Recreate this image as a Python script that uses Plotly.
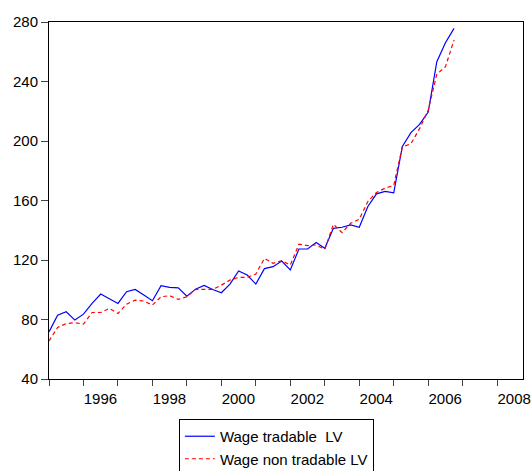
import plotly.graph_objects as go

start_year = 1995
wage_tradable = [71.7, 82.9, 85.2, 79.6, 83.6, 90.8, 97.1, 94.2, 90.8, 98.7, 100.2, 96.4,
                 92.6, 102.7, 101.6, 101.3, 95.7, 100.4, 102.9, 100.2, 98.0, 103.8, 112.6, 109.9,
                 103.8, 114.2, 115.5, 119.3, 113.3, 127.4, 127.4, 131.7, 127.9, 141.3, 142.0, 143.6,
                 142.0, 156.0, 164.5, 166.1, 165.2, 196.4, 205.6, 211.2, 219.5, 253.3, 266.1, 275.7]
wage_non_tradable = [65.6, 74.6, 77.3, 77.8, 76.9, 84.7, 84.7, 87.4, 84.0, 90.3, 93.0, 92.4,
                     89.7, 95.3, 96.0, 93.5, 95.3, 100.2, 100.2, 100.2, 103.1, 106.5, 108.3, 108.3,
                     110.6, 121.1, 117.8, 119.6, 116.6, 130.6, 129.7, 130.1, 127.2, 144.0, 138.4, 144.7,
                     147.4, 159.3, 165.4, 168.3, 170.1, 196.0, 198.2, 208.3, 220.7, 244.9, 249.9, 267.9]
quarters = [start_year + i / 4 for i in range(len(wage_tradable))]
tick_years = list(range(1995, 2009))
tick_labels = [str(y) if y % 2 == 0 else "" for y in tick_years]
y_ticks = [40, 80, 120, 160, 200, 240, 280]

fig = go.Figure()
fig.add_trace(go.Scatter(x=quarters, y=wage_tradable, mode="lines", name="Wage tradable  LV",
                         line=dict(color="#0000FF", width=1.2)))
fig.add_trace(go.Scatter(x=quarters, y=wage_non_tradable, mode="lines", name="Wage non tradable LV",
                         line=dict(color="#FF0000", width=1.2, dash="4px,3px")))

fig.update_layout(
    width=531, height=471,
    margin=dict(l=49, r=8, t=22, b=92, autoexpand=False),
    paper_bgcolor="white", plot_bgcolor="white",
    font=dict(family="Liberation Sans, Arial, sans-serif", size=15, color="black"),
    showlegend=True,
    legend=dict(x=0.274, y=-0.112, xanchor="left", yanchor="top",
                bordercolor="black", borderwidth=1, bgcolor="white",
                font=dict(size=15), tracegroupgap=0, itemwidth=30),
    xaxis=dict(range=[1995, 2008.75], tickvals=tick_years, ticktext=tick_labels,
               ticks="outside", ticklen=6, tickcolor="#444", showgrid=False, zeroline=False,
               showline=True, linecolor="black", linewidth=1, mirror=True,
               ticklabelshift=17),
    yaxis=dict(range=[40, 280], tickvals=y_ticks, ticks="outside", ticklen=7, tickcolor="#444",
               showgrid=False, zeroline=False, showline=True, linecolor="black",
               linewidth=1, mirror=True),
)
fig.write_html("out.html", config={"displayModeBar": False},
               post_script="document.body.style.margin='0';document.body.style.overflow='hidden';")
